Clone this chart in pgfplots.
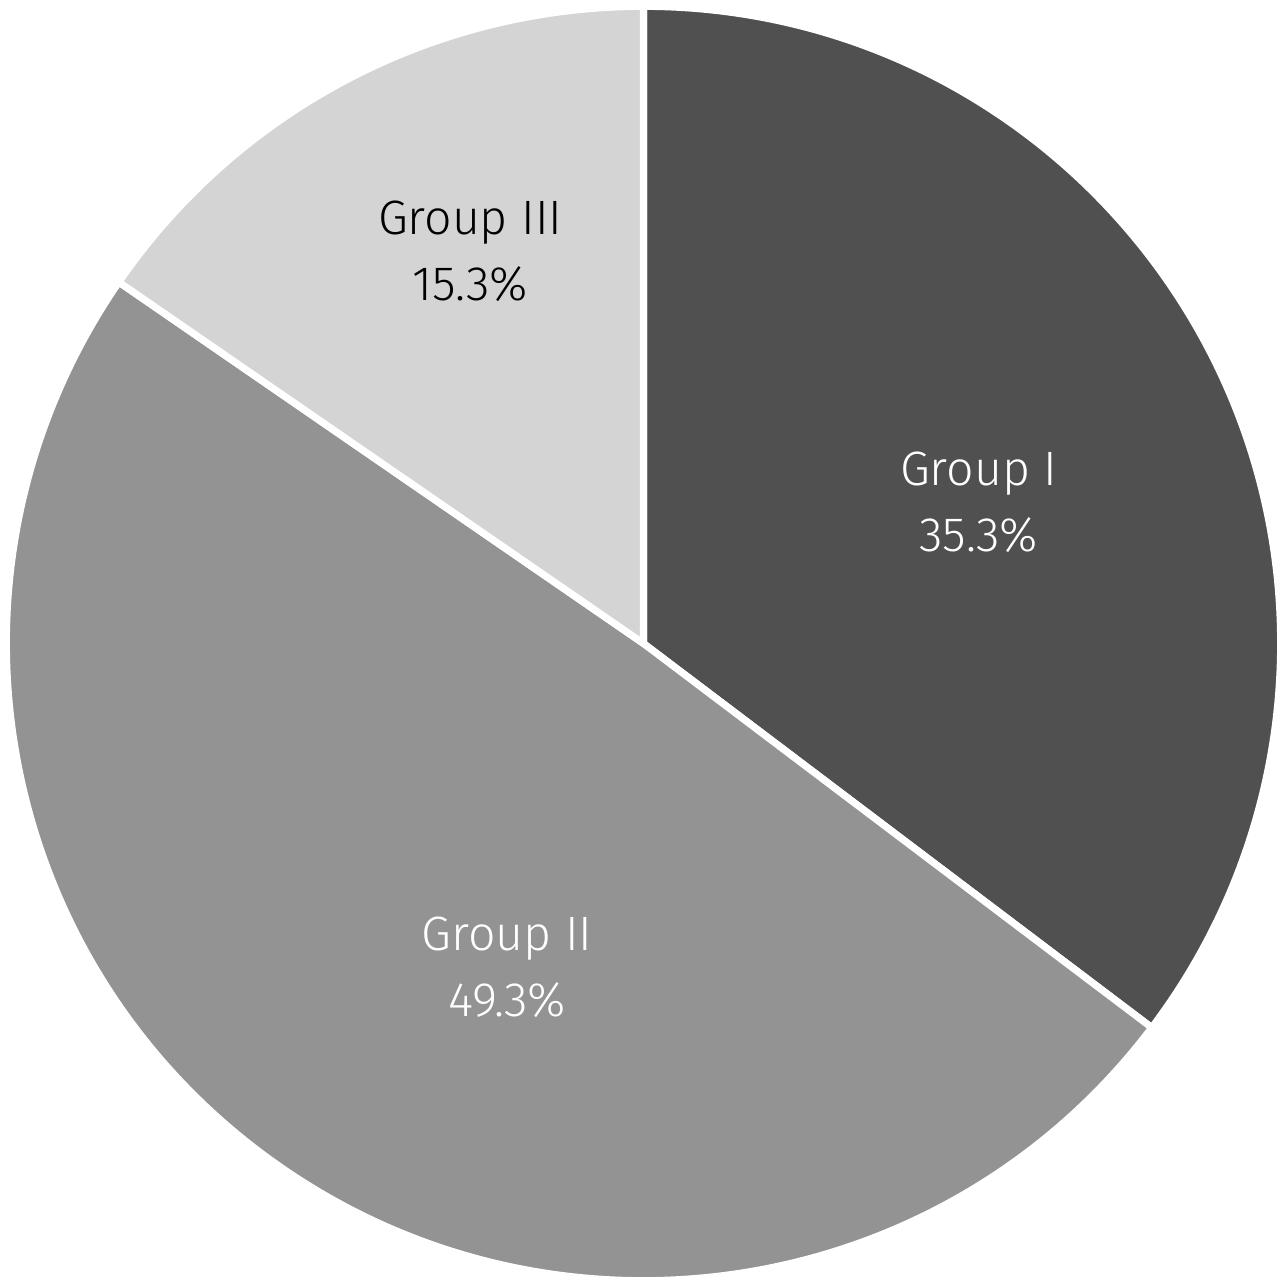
\documentclass[border=0pt]{standalone}
\usepackage{pgfplots}
\pgfplotsset{compat=1.18}
\usepackage{fontspec}
\setmainfont{Fira Sans Light}
\definecolor{g1}{HTML}{505050}
\definecolor{g2}{HTML}{939393}
\definecolor{g3}{HTML}{D4D4D4}
% radius of the pie in pt: axis 400pt wide over [-1.01,1.01]
\newcommand{\R}{198.0198pt}
% \pieslice{cumulative percent before}{percent}{colour}
\newcommand{\pieslice}[3]{%
  \fill[#3, draw=white, line width=2.2pt, line join=miter]
    (axis cs:0,0) -- (axis cs:{cos(90-3.6*#1)},{sin(90-3.6*#1)})
    arc[start angle={90-3.6*#1}, delta angle={-3.6*#2}, radius=\R] -- cycle;}
\begin{document}
\begin{tikzpicture}
\useasboundingbox (0,0) rectangle (400pt,400pt);
\begin{axis}[
  at={(0,0)}, anchor=south west,
  scale only axis, width=400pt, height=400pt,
  xmin=-1.01, xmax=1.01, ymin=-1.01, ymax=1.01,
  hide axis, clip=false,
]
\pieslice{0}{35.3}{g1}
\pieslice{35.3}{49.3}{g2}
\pieslice{84.6}{15.4}{g3}
\node[white, align=center, font=\fontsize{15}{20.5}\selectfont] at (axis cs:0.526,0.222) {Group I\\35.3\%};
\node[white, align=center, font=\fontsize{15}{20.5}\selectfont] at (axis cs:-0.214,-0.508) {Group II\\49.3\%};
\node[black, align=center, font=\fontsize{15}{20.5}\selectfont] at (axis cs:-0.272,0.616) {Group III\\15.3\%};
\end{axis}
\end{tikzpicture}
\end{document}
